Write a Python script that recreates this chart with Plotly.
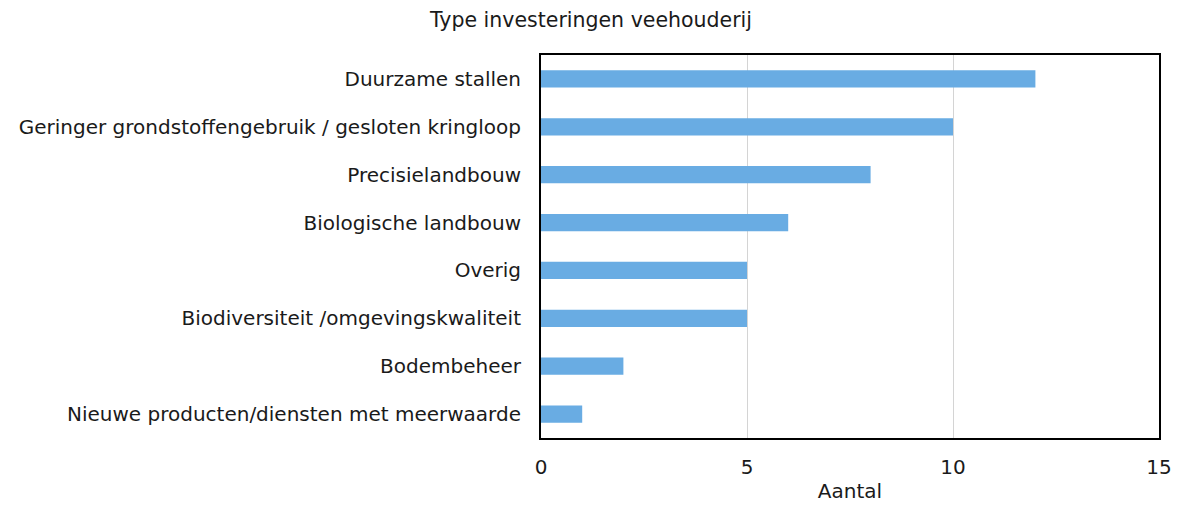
import plotly.graph_objects as go

categories = [
    "Duurzame stallen",
    "Geringer grondstoffengebruik / gesloten kringloop",
    "Precisielandbouw",
    "Biologische landbouw",
    "Overig",
    "Biodiversiteit /omgevingskwaliteit",
    "Bodembeheer",
    "Nieuwe producten/diensten met meerwaarde",
]
aantal = [12, 10, 8, 6, 5, 5, 2, 1]

FONT = "DejaVu Sans, Verdana, sans-serif"

fig = go.Figure()
fig.add_trace(go.Bar(
    y=categories,
    x=aantal,
    orientation="h",
    marker=dict(color="#69ACE3", line=dict(width=0)),
    width=0.36,
))

# page body has an 8px margin, so the figure is shrunk and shifted to match
fig.update_layout(
    width=1166,
    height=496,
    margin=dict(l=533, r=15, t=47, b=66),
    paper_bgcolor="white",
    plot_bgcolor="white",
    font=dict(family=FONT, size=20, color="#1a1a1a"),
    title=dict(text="Type investeringen veehouderij", x=0.5, xanchor="center",
               y=1 - 12 / 496, yanchor="middle", font=dict(size=20.5)),
    showlegend=False,
    xaxis=dict(
        range=[0, 15],
        tickvals=[0, 5, 10, 15],
        showgrid=True,
        gridcolor="#d4d4d4",
        gridwidth=1,
        zeroline=False,
        showline=True,
        linecolor="black",
        linewidth=2,
        mirror=True,
        ticks="",
        ticklen=0,
        ticklabelstandoff=10,
        automargin=False,
        title=dict(text="Aantal", standoff=6, font=dict(size=20)),
    ),
    yaxis=dict(
        autorange="reversed",
        showline=True,
        linecolor="black",
        linewidth=2,
        mirror=True,
        ticks="",
        ticklabelstandoff=14,
        automargin=False,
    ),
)

fig.write_html("out.html")
